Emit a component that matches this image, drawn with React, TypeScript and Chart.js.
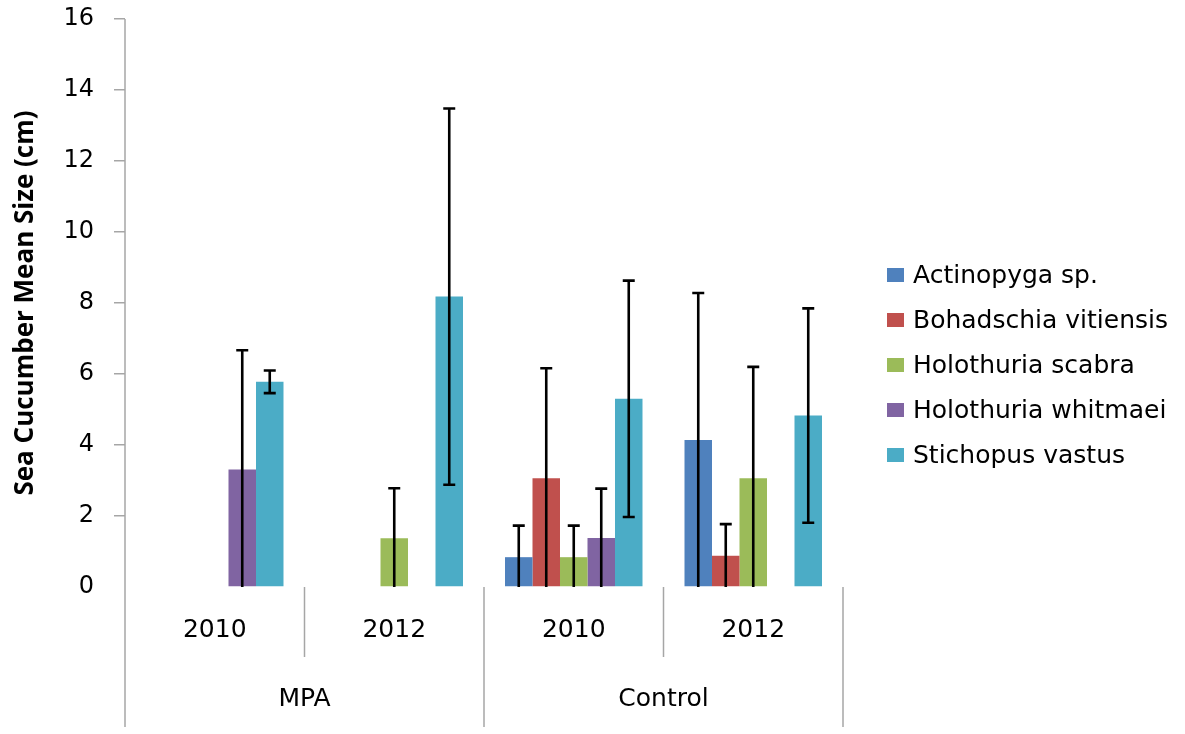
import { useEffect, useRef } from 'react';
import { Chart, registerables } from 'chart.js';

Chart.register(...registerables);

// Category axis: year inside each site
const yearLabels = ['2010', '2012', '2010', '2012'];
const siteLabels = ['MPA', 'Control'];

// Species (series) names and colours
const speciesNames = [
  'Actinopyga sp.',
  'Bohadschia vitiensis',
  'Holothuria scabra',
  'Holothuria whitmaei',
  'Stichopus vastus',
];
const speciesColors = ['#4F81BD', '#C0504D', '#9BBB59', '#8064A2', '#4BACC6'];

// Mean size (cm) per species, ordered as yearLabels
const actinopygaMean = [null, null, 0.84, 4.14];
const bohadschiaMean = [null, null, 3.06, 0.88];
const scabraMean = [null, 1.37, 0.84, 3.06];
const whitmaeiMean = [3.31, null, 1.38, null];
const stichopusMean = [5.78, 8.18, 5.3, 4.83];

// Standard deviation (cm) per species, ordered as yearLabels
const actinopygaSd = [null, null, 0.89, 4.14];
const bohadschiaSd = [null, null, 3.1, 0.89];
const scabraSd = [null, 1.41, 0.89, 3.14];
const whitmaeiSd = [3.36, null, 1.39, null];
const stichopusSd = [0.32, 5.3, 3.33, 3.02];

const means = [actinopygaMean, bohadschiaMean, scabraMean, whitmaeiMean, stichopusMean];
const deviations = [actinopygaSd, bohadschiaSd, scabraSd, whitmaeiSd, stichopusSd];

const yMin = 0;
const yMax = 16;
const yStep = 2;
const yTitle = 'Sea Cucumber Mean Size (cm)';

const AXIS_GRAY = '#a6a6a6';
const TEXT_FONT = '"DejaVu Sans", sans-serif';

// Error bars: whisker from mean-sd (floored at zero) to mean+sd
const errorBarPlugin = {
  id: 'errorBars',
  afterDatasetsDraw(chart: any) {
    const ctx = chart.ctx;
    const yScale = chart.scales.y;
    ctx.save();
    ctx.strokeStyle = '#000';
    ctx.lineWidth = 2.6;
    chart.data.datasets.forEach((ds: any, i: number) => {
      const meta = chart.getDatasetMeta(i);
      meta.data.forEach((bar: any, j: number) => {
        const v = ds.data[j];
        const e = deviations[i][j];
        if (v == null || e == null) return;
        const hi = v + e;
        const lo = Math.max(0, v - e);
        const x = bar.x;
        const yHi = yScale.getPixelForValue(hi);
        const yLo = yScale.getPixelForValue(lo);
        ctx.beginPath();
        ctx.moveTo(x, yLo);
        ctx.lineTo(x, yHi);
        ctx.moveTo(x - 6, yHi);
        ctx.lineTo(x + 6, yHi);
        if (lo > 0.05) {
          ctx.moveTo(x - 6, yLo);
          ctx.lineTo(x + 6, yLo);
        }
        ctx.stroke();
      });
    });
    ctx.restore();
  },
};

// Two-level category axis, vertical axis line, and the legend
const framePlugin = {
  id: 'frame',
  afterDraw(chart: any) {
    const ctx = chart.ctx;
    const xs = chart.scales.x;
    const area = chart.chartArea;
    const px = (i: number) => xs.getPixelForValue(i);
    const step = px(1) - px(0);
    const edge = (k: number) => px(0) - step / 2 + k * step;
    const yearRowBottom = area.bottom + 70;
    const siteRowBottom = area.bottom + 140;

    ctx.save();
    ctx.strokeStyle = AXIS_GRAY;
    ctx.lineWidth = 1.5;
    ctx.beginPath();
    // vertical value axis, continued down through the category rows
    ctx.moveTo(area.left, area.top);
    ctx.lineTo(area.left, siteRowBottom);
    for (let k = 1; k <= yearLabels.length; k++) {
      const x = edge(k);
      const outer = k % 2 === 0;
      ctx.moveTo(x, area.bottom);
      ctx.lineTo(x, outer ? siteRowBottom : yearRowBottom);
    }
    ctx.stroke();

    ctx.fillStyle = '#000';
    ctx.textAlign = 'center';
    ctx.textBaseline = 'middle';
    ctx.font = `25px ${TEXT_FONT}`;
    yearLabels.forEach((lab, i) => {
      ctx.fillText(lab, px(i), area.bottom + 43);
    });
    siteLabels.forEach((lab, g) => {
      ctx.fillText(lab, (px(2 * g) + px(2 * g + 1)) / 2, area.bottom + 112);
    });

    // legend
    ctx.textAlign = 'left';
    ctx.font = `25px ${TEXT_FONT}`;
    chart.data.datasets.forEach((ds: any, i: number) => {
      const cy = 275 + i * 45;
      ctx.fillStyle = ds.backgroundColor;
      ctx.fillRect(887, cy - 7, 17, 14);
      ctx.fillStyle = '#000';
      ctx.fillText(ds.label, 913, cy + 1);
    });
    ctx.restore();
  },
};

export default function App() {
  const canvasRef = useRef<HTMLCanvasElement | null>(null);

  useEffect(() => {
    const canvas = canvasRef.current;
    if (!canvas) return;
    const chart = new Chart(canvas, {
      type: 'bar',
      data: {
        labels: yearLabels,
        datasets: speciesNames.map((name, i) => ({
          label: name,
          data: means[i],
          backgroundColor: speciesColors[i],
          borderWidth: 0,
          barPercentage: 1,
          categoryPercentage: 0.766,
        })),
      },
      options: {
        responsive: false,
        animation: false,
        devicePixelRatio: 1,
        layout: { padding: { top: 19, right: 342, bottom: 147, left: 0 } },
        plugins: {
          legend: { display: false },
          tooltip: { enabled: false },
        },
        scales: {
          x: {
            display: false,
            offset: true,
            grid: { display: false },
          },
          y: {
            min: yMin,
            max: yMax,
            afterFit(scale: any) {
              scale.width = 125;
              scale.paddingTop = 0;
              scale.paddingBottom = 0;
            },
            ticks: {
              stepSize: yStep,
              padding: 20,
              color: '#000',
              font: { family: TEXT_FONT, size: 24 },
            },
            grid: {
              drawOnChartArea: false,
              drawTicks: true,
              tickLength: 11,
              lineWidth: 1.5,
              color: (c: any) => (c.tick && c.tick.value === 0 ? 'rgba(0,0,0,0)' : AXIS_GRAY),
            },
            border: { display: false },
            title: {
              display: true,
              text: yTitle,
              color: '#000',
              padding: { top: 10, bottom: 0 },
              font: { family: '"Open Sans", sans-serif', size: 26, weight: 'bold' },
            },
          },
        },
      },
      plugins: [errorBarPlugin, framePlugin],
    });
    return () => chart.destroy();
  }, []);

  return (
    <div style={{ position: 'fixed', left: 0, top: 0, width: 1185, height: 734, background: '#fff' }}>
      <canvas ref={canvasRef} width={1185} height={734} />
    </div>
  );
}
